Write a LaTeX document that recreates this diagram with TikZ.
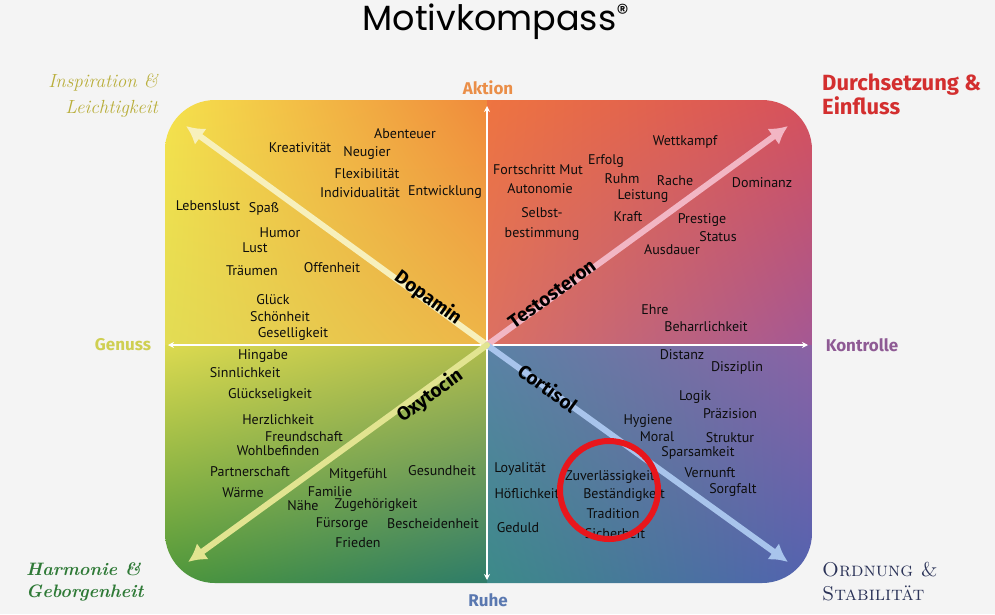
\documentclass[tikz,border=0pt]{standalone}
\usepackage{fontspec}
\usepackage{tikz}
\usetikzlibrary{arrows.meta}
\usetikzlibrary{positioning}
\usetikzlibrary{shadings}

\newfontfamily\wortfont{PT Sans}
\newfontfamily\titelfont{Poppins}
\newfontfamily\fettfont{Fira Sans}

\definecolor{hgrund}{HTML}{F4F4F4}
\definecolor{gelbOL}{HTML}{F5E24C}
\definecolor{orangeO}{HTML}{F08A3C}
\definecolor{gelbL}{HTML}{E2DC54}
\definecolor{mitteOL}{HTML}{EEB648}
\definecolor{orangeOR}{HTML}{EE7440}
\definecolor{rotOR}{HTML}{D6505C}
\definecolor{mitteOR}{HTML}{DC7062}
\definecolor{lilaR}{HTML}{A45894}
\definecolor{mitteUR}{HTML}{5A82A6}
\definecolor{lilaUR}{HTML}{8C62A4}
\definecolor{tuerkisU}{HTML}{3C8A88}
\definecolor{blauUR}{HTML}{5262B0}
\definecolor{gelbUL}{HTML}{DCDA50}
\definecolor{mitteUL}{HTML}{B0BC4C}
\definecolor{gruenUL}{HTML}{4C963A}
\definecolor{tuerkisUL}{HTML}{2E7C6A}
\definecolor{pfeilOL}{HTML}{F7F0BC}
\definecolor{pfeilOR}{HTML}{F2B6C4}
\definecolor{pfeilUR}{HTML}{A8C4EC}
\definecolor{pfeilUL}{HTML}{E2E490}
\definecolor{kreisrot}{HTML}{E8161C}
\definecolor{aktionfarbe}{HTML}{EA8E48}
\definecolor{genussfarbe}{HTML}{CFCF52}
\definecolor{kontrollfarbe}{HTML}{8E5A94}
\definecolor{ruhefarbe}{HTML}{5A78B0}
\definecolor{inspfarbe}{HTML}{B9AE3A}
\definecolor{durchfarbe}{HTML}{D32F2F}
\definecolor{harmfarbe}{HTML}{2F7A37}
\definecolor{ordfarbe}{HTML}{2B3358}

\tikzset{
  wort/.style={font=\wortfont\fontsize{14}{20}\selectfont, text=black!95, inner sep=0pt, align=center},
  hormon/.style={font=\fettfont\bfseries\fontsize{19}{21}\selectfont, text=black, inner sep=0pt},
  achse/.style={font=\fettfont\bfseries\fontsize{17}{19}\selectfont, inner sep=0pt},
}

\begin{document}
\begin{tikzpicture}[line cap=round,line join=round, x=1pt,y=-1pt]
\fill [hgrund] (0,0) rectangle (995,614);
\useasboundingbox (0,0) rectangle (995,614);

% Feld mit vier Farbverlaeufen
\begin{scope}
\clip [rounded corners=50pt] (165,100) rectangle (812,583);
\shade [upper left=gelbOL, upper right=orangeO, lower left=gelbL, lower right=mitteOL] (165,100) rectangle (487,345);
\shade [upper left=orangeOR, upper right=rotOR, lower left=mitteOR, lower right=lilaR] (487,100) rectangle (812,345);
\shade [upper left=mitteUR, upper right=lilaUR, lower left=tuerkisU, lower right=blauUR] (487,345) rectangle (812,583);
\shade [upper left=gelbUL, upper right=mitteUL, lower left=gruenUL, lower right=tuerkisUL] (165,345) rectangle (487,583);
\end{scope}

\coordinate (mitte) at (487,345);
\coordinate (oben) at (487,106);
\coordinate (unten) at (487,580);
\coordinate (links) at (168,345);
\coordinate (rechts) at (808,345);
\coordinate (ol) at (186,126);
\coordinate (or) at (788,126);
\coordinate (ur) at (788,562);
\coordinate (ul) at (188,562);

% Achsen
\draw [white, line width=1.5pt, {Stealth[length=6pt, width=6pt]}-{Stealth[length=6pt, width=6pt]}] (oben) -- (unten);
\draw [white, line width=1.5pt, {Stealth[length=6pt, width=6pt]}-{Stealth[length=6pt, width=6pt]}] (links) -- (rechts);

% Diagonale Pfeile
\draw [line width=6pt, pfeilOL, -{Latex[length=18pt, width=20pt]}] (mitte) -- (ol);
\draw [line width=6pt, pfeilOR, -{Latex[length=18pt, width=20pt]}] (mitte) -- (or);
\draw [line width=6pt, pfeilUR, -{Latex[length=18pt, width=20pt]}] (mitte) -- (ur);
\draw [line width=6pt, pfeilUL, -{Latex[length=18pt, width=20pt]}] (mitte) -- (ul);

% Dopamin
\node[wort] (abenteuer) at (405,134) {Abenteuer};
\node[wort] (kreativ) at (300,148) {Kreativität};
\node[wort] (neugier) at (367,153) {Neugier};
\node[wort] (flexibel) at (367,174) {Flexibilität};
\node[wort] (individuell) at (360,193) {Individualität};
\node[wort] (entwicklung) at (445,192) {Entwicklung};
\node[wort] (lebenslust) at (208,206) {Lebenslust};
\node[wort] (spass) at (264,209) {Spaß};
\node[wort] (humor) at (280,233) {Humor};
\node[wort] (lust) at (255,248) {Lust};
\node[wort] (traeumen) at (252,271) {Träumen};
\node[wort] (offenheit) at (332,268) {Offenheit};
\node[wort] (glueck) at (273,300) {Glück};
\node[wort] (schoenheit) at (280,317) {Schönheit};
\node[wort] (gesellig) at (293,334) {Geselligkeit};

% Testosteron
\node[wort] (wettkampf) at (685,142) {Wettkampf};
\node[wort] (fortschritt) at (538,170) {Fortschritt Mut};
\node[wort] (erfolg) at (606,161) {Erfolg};
\node[wort] (ruhm) at (622,179) {Ruhm};
\node[wort] (rache) at (675,181) {Rache};
\node[wort] (dominanz) at (762,183) {Dominanz};
\node[wort] (autonomie) at (540,189) {Autonomie};
\node[wort] (leistung) at (643,196) {Leistung};
\node[wort] (selbst) at (542,224) {Selbst-\\bestimmung};
\node[wort] (kraft) at (628,217) {Kraft};
\node[wort] (prestige) at (702,220) {Prestige};
\node[wort] (status) at (718,237) {Status};
\node[wort] (ausdauer) at (672,250) {Ausdauer};
\node[wort] (ehre) at (655,310) {Ehre};
\node[wort] (beharrlich) at (706,327) {Beharrlichkeit};

% Oxytocin
\node[wort] (hingabe) at (263,356) {Hingabe};
\node[wort] (sinnlich) at (245,373) {Sinnlichkeit};
\node[wort] (glueckselig) at (270,395) {Glückseligkeit};
\node[wort] (herzlich) at (278,420) {Herzlichkeit};
\node[wort] (freundschaft) at (304,437) {Freundschaft};
\node[wort] (wohlbefinden) at (278,451) {Wohlbefinden};
\node[wort] (partner) at (250,472) {Partnerschaft};
\node[wort] (mitgefuehl) at (358,475) {Mitgefühl};
\node[wort] (gesundheit) at (442,471) {Gesundheit};
\node[wort] (waerme) at (243,493) {Wärme};
\node[wort] (familie) at (330,492) {Familie};
\node[wort] (naehe) at (303,506) {Nähe};
\node[wort] (zugehoerig) at (376,505) {Zugehörigkeit};
\node[wort] (fuersorge) at (342,524) {Fürsorge};
\node[wort] (bescheiden) at (433,524) {Bescheidenheit};
\node[wort] (frieden) at (358,543) {Frieden};

% Cortisol
\node[wort] (distanz) at (682,355) {Distanz};
\node[wort] (disziplin) at (737,368) {Disziplin};
\node[wort] (logik) at (695,397) {Logik};
\node[wort] (praezision) at (730,414) {Präzision};
\node[wort] (hygiene) at (648,421) {Hygiene};
\node[wort] (moral) at (657,437) {Moral};
\node[wort] (struktur) at (730,438) {Struktur};
\node[wort] (sparsam) at (698,453) {Sparsamkeit};
\node[wort] (loyal) at (520,469) {Loyalität};
\node[wort] (zuverlaessig) at (610,477) {Zuverlässigkeit};
\node[wort] (vernunft) at (710,473) {Vernunft};
\node[wort] (hoeflich) at (527,494) {Höflichkeit};
\node[wort] (bestaendig) at (624,495) {Beständigkeit};
\node[wort] (sorgfalt) at (733,490) {Sorgfalt};
\node[wort] (tradition) at (613,514) {Tradition};
\node[wort] (geduld) at (518,528) {Geduld};
\node[wort] (sicherheit) at (615,534) {Sicherheit};

% Hormone
\node[hormon, rotate=-36] (dopamin) at (428,298) {Dopamin};
\node[hormon, rotate=36] (testo) at (552,294) {Testosteron};
\node[hormon, rotate=36] (oxy) at (430,396) {Oxytocin};
\node[hormon, rotate=-36] (cortisol) at (548,388) {Cortisol};

% Kreis
\coordinate (kreis) at (609,490);
\draw [line width=6pt, kreisrot] (kreis) circle [radius=49pt];

% Titel und Achsen
\node[font=\titelfont\fontsize{35}{40}\selectfont, inner sep=0pt] (titel) at (496,22) {Motivkompass\textsuperscript{®}};
\node[achse, text=aktionfarbe] (aktion) at (488,88) {Aktion};
\node[achse, text=genussfarbe] (genuss) at (123,345) {Genuss};
\node[achse, text=kontrollfarbe] (kontrolle) at (862,345) {Kontrolle};
\node[achse, text=ruhefarbe] (ruhe) at (488,600) {Ruhe};

% Ecken
\node[font=\itshape\fontsize{19}{26}\selectfont, text=inspfarbe, align=right, anchor=north east, inner sep=0pt] (inspiration) at (158,74) {Inspiration \&\\Leichtigkeit};
\node[font=\fettfont\bfseries\fontsize{22}{24}\selectfont, text=durchfarbe, align=left, anchor=north west, inner sep=0pt] (durchsetzung) at (822,74) {Durchsetzung \&\\Einfluss};
\node[font=\bfseries\itshape\fontsize{18}{22}\selectfont, text=harmfarbe, align=left, anchor=north west, inner sep=0pt] (harmonie) at (26,562) {Harmonie \&\\Geborgenheit};
\node[font=\scshape\fontsize{20}{24}\selectfont, text=ordfarbe, align=left, anchor=north west, inner sep=0pt] (ordnung) at (822,562) {Ordnung \&\\Stabilität};
\end{tikzpicture}
\end{document}
